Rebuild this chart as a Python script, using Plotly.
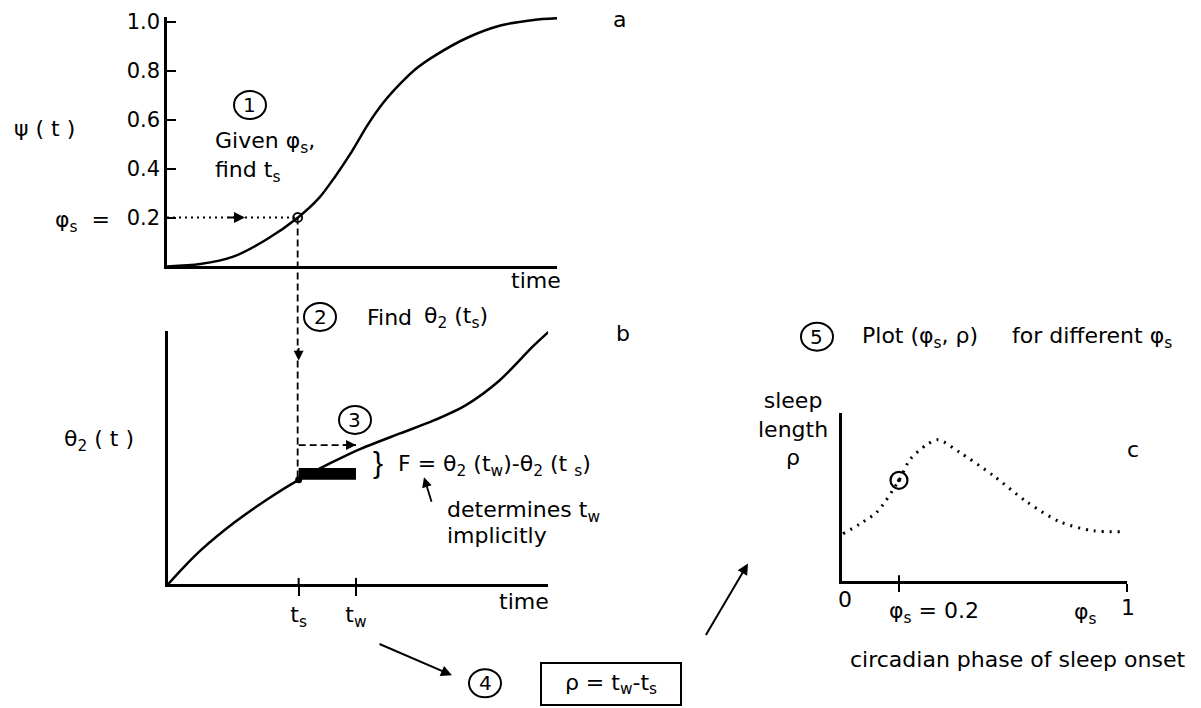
import plotly.graph_objects as go

W, H = 1201, 708
FONT = "DejaVu Sans"

# ---- panel a: psi(t) ----
t_a = [0, 0.085, 0.17, 0.255, 0.336, 0.39, 0.43, 0.47, 0.515, 0.555,
       0.6, 0.64, 0.685, 0.77, 0.855, 0.94, 1.0]
psi = [0, 0.01, 0.04, 0.11, 0.2, 0.28, 0.365, 0.46, 0.58, 0.67,
       0.75, 0.81, 0.86, 0.935, 0.985, 1.008, 1.015]
psi_ticks = [0.2, 0.4, 0.6, 0.8, 1.0]
psi_tick_text = ["0.2", "0.4", "0.6", "0.8", "1.0"]

# ---- panel b: theta2(t) ----
t_b = [0, 0.04, 0.085, 0.17, 0.255, 0.335, 0.42, 0.485, 0.595, 0.68,
       0.765, 0.85, 0.935, 0.979]
theta2 = [0, 0.068, 0.138, 0.248, 0.342, 0.42, 0.49, 0.539, 0.607, 0.658,
          0.722, 0.82, 0.956, 1.02]

phi_s = 0.2        # chosen circadian phase of sleep onset
t_s = 0.335        # sleep onset time
t_w = 0.482        # wake time
theta_s = 0.42     # theta2(t_s)
theta_step = 0.56  # level of the step-3 arrow
F_bar = 0.048      # drawn thickness of the F bar

# ---- panel c: sleep length vs onset phase ----
phase = [0.0035, 0.063, 0.123, 0.2, 0.239, 0.298, 0.337, 0.414, 0.53,
         0.649, 0.765, 0.881, 0.975]
rho = [0.282, 0.341, 0.412, 0.6, 0.724, 0.812, 0.841, 0.765, 0.629,
       0.471, 0.353, 0.3, 0.294]
rho_s = 0.6


# pixel layout -> paper fractions
def fx(x):
    return x / W


def fy(y):
    return 1 - y / H


XA_DOM = [fx(167), fx(557)]
YA_RNG = [0, 1.02]
YA_DOM = [fy(262), fy(262 - 247 * YA_RNG[1])]
XB_DOM = [fx(168), fx(548)]
XB_RNG = [0, 380 / 390]
YB_RNG = [0, 1.02]
YB_DOM = [fy(583), fy(583 - 251 * YB_RNG[1])]
XC_DOM = [fx(842), fx(1127)]
YC_DOM = [fy(580), fy(410)]


def to_paper(v, dom, rng):
    return dom[0] + (v - rng[0]) / (rng[1] - rng[0]) * (dom[1] - dom[0])


LW = 2.5
fig = go.Figure()

fig.add_trace(go.Scatter(x=t_a, y=psi, mode="lines",
                         line=dict(color="black", width=LW, shape="spline", smoothing=0.8),
                         xaxis="x", yaxis="y", hoverinfo="skip"))
fig.add_trace(go.Scatter(x=t_b, y=theta2, mode="lines",
                         line=dict(color="black", width=LW, shape="spline", smoothing=0.8),
                         xaxis="x2", yaxis="y2", hoverinfo="skip"))
fig.add_trace(go.Scatter(x=phase, y=rho, mode="lines",
                         line=dict(color="black", width=3, shape="spline", smoothing=0.8, dash="2px,6px"),
                         xaxis="x3", yaxis="y3", hoverinfo="skip"))

# markers on the curves
fig.add_trace(go.Scatter(x=[t_s], y=[phi_s], mode="markers",
                         marker=dict(symbol="circle-open", size=9, color="black",
                                     line=dict(width=1.8, color="black")),
                         xaxis="x", yaxis="y", hoverinfo="skip"))
fig.add_trace(go.Scatter(x=[t_s], y=[theta_s], mode="markers",
                         marker=dict(symbol="circle", size=7, color="black"),
                         xaxis="x2", yaxis="y2", hoverinfo="skip"))
fig.add_trace(go.Scatter(x=[phi_s], y=[rho_s], mode="markers",
                         marker=dict(symbol="circle-open", size=17, color="black",
                                     line=dict(width=2.2, color="black")),
                         xaxis="x3", yaxis="y3", hoverinfo="skip"))
fig.add_trace(go.Scatter(x=[phi_s], y=[rho_s], mode="markers",
                         marker=dict(symbol="circle", size=4, color="black"),
                         xaxis="x3", yaxis="y3", hoverinfo="skip"))

shapes = []
# step 1: dotted line from the psi axis to the curve
shapes.append(dict(type="line", xref="x", yref="y", x0=0, x1=t_s, y0=phi_s, y1=phi_s,
                   line=dict(color="black", width=2, dash="2px,4px")))
# step 2: dashed drop from panel a to panel b
shapes.append(dict(type="line", xref="x", yref="paper", x0=t_s, x1=t_s,
                   y0=to_paper(phi_s, YA_DOM, YA_RNG), y1=to_paper(theta_s, YB_DOM, YB_RNG),
                   line=dict(color="black", width=1.8, dash="7px,4px")))
# step 3: dashed horizontal arrow to t_w
shapes.append(dict(type="line", xref="x2", yref="y2", x0=t_s, x1=t_w, y0=theta_step, y1=theta_step,
                   line=dict(color="black", width=1.8, dash="7px,4px")))
# the F bar
shapes.append(dict(type="rect", xref="x2", yref="y2", x0=t_s, x1=t_w, y0=theta_s, y1=theta_s + F_bar,
                   line=dict(width=0), fillcolor="black"))

# tick marks that cross the axis (upper half)
for tv in (t_s, t_w):
    shapes.append(dict(type="line", xref="x2", yref="y2 domain", x0=tv, x1=tv, y0=0, y1=0.025,
                       line=dict(color="black", width=2)))
shapes.append(dict(type="line", xref="x3", yref="y3 domain", x0=phi_s, x1=phi_s, y0=0, y1=0.035,
                   line=dict(color="black", width=2)))


# circled step numbers
def circled(cx, cy, n):
    shapes.append(dict(type="circle", xref="paper", yref="paper", xsizemode="pixel", ysizemode="pixel",
                       xanchor=fx(cx), yanchor=fy(cy), x0=-16, x1=16, y0=-14, y1=14,
                       line=dict(color="black", width=2)))
    return dict(x=fx(cx), y=fy(cy), xref="paper", yref="paper", text=str(n), showarrow=False,
                font=dict(size=20), xanchor="center", yanchor="middle")


annotations = []
for cx, cy, n in [(250, 99, 1), (320, 313, 2), (355, 417, 3), (485, 683, 4), (817, 333, 5)]:
    annotations.append(circled(cx, cy, n))


def label(x, y, text, size=22, xanchor="left", yanchor="middle", **kw):
    d = dict(x=fx(x), y=fy(y), xref="paper", yref="paper", text=text, showarrow=False,
             font=dict(size=size), xanchor=xanchor, yanchor=yanchor)
    d.update(kw)
    return d


annotations += [
    label(12, 123, "ψ ( t )"),
    label(112, 217, "φ<sub>s</sub>  =", xanchor="right"),
    label(213, 137, "Given φ<sub>s</sub>,"),
    label(213, 166, "find t<sub>s</sub>"),
    label(563, 276, "time", xanchor="right"),
    label(619, 13, "a", xanchor="center"),
    label(365, 314, "Find"),
    label(422, 314, "θ<sub>2</sub> (t<sub>s</sub>)"),
    label(623, 330, "b", xanchor="center"),
    label(62, 438, "θ<sub>2</sub> ( t )"),
    label(378, 460, "}", xanchor="center", font=dict(size=30, family="Liberation Sans")),
    label(396, 463, "F = θ<sub>2</sub> (t<sub>w</sub>)-θ<sub>2</sub> (t <sub>s</sub>)"),
    label(445, 510, "determines t<sub>w</sub>"),
    label(445, 534, "implicitly"),
    label(551, 600, "time", xanchor="right"),
    label(611, 684, "ρ = t<sub>w</sub>-t<sub>s</sub>", xanchor="center",
          bordercolor="black", borderwidth=2, width=136, height=38),
    label(860, 334, "Plot (φ<sub>s</sub>, ρ)"),
    label(1010, 334, "for different φ<sub>s</sub>"),
    label(793, 426, "sleep<br>length<br>ρ", xanchor="center"),
    label(1133, 447, "c", xanchor="center"),
    label(845, 598, "0", xanchor="center"),
    label(887, 612, "φ<sub>s</sub> = 0.2"),
    label(1085, 613, "φ<sub>s</sub>", xanchor="center"),
    label(1128, 606, "1", xanchor="center"),
    label(1017, 659, "circadian phase of sleep onset", xanchor="center"),
]

# arrowheads and connecting arrows
arrow = dict(showarrow=True, arrowhead=2, arrowsize=1.1, arrowwidth=2, arrowcolor="black", text="",
             standoff=0)
annotations.append(dict(arrow, x=0.2, y=phi_s, xref="x", yref="y", ax=-18, ay=0))
annotations.append(dict(arrow, x=t_s, y=0.9, xref="x2", yref="y2", ax=0, ay=-14, arrowwidth=1.8))
annotations.append(dict(arrow, x=t_w, y=theta_step, xref="x2", yref="y2", ax=-14, ay=0, arrowwidth=1.8))
annotations.append(dict(arrow, x=fx(424), y=fy(475), xref="paper", yref="paper", ax=8, ay=26, arrowwidth=1.8))
annotations.append(dict(arrow, x=fx(452), y=fy(675), xref="paper", yref="paper", ax=-74, ay=-32))
annotations.append(dict(arrow, x=fx(748), y=fy(562), xref="paper", yref="paper", ax=-43, ay=73))

axis_common = dict(showgrid=False, zeroline=False, showline=True, linecolor="black", linewidth=LW,
                   fixedrange=True)

fig.update_layout(
    width=W, height=H, margin=dict(l=0, r=0, t=0, b=0),
    paper_bgcolor="white", plot_bgcolor="rgba(0,0,0,0)", showlegend=False,
    font=dict(family=FONT, size=22, color="black"),
    xaxis=dict(axis_common, domain=XA_DOM, range=[0, 1], anchor="y", showticklabels=False, ticks=""),
    yaxis=dict(axis_common, domain=YA_DOM, range=YA_RNG, anchor="x", ticks="inside", ticklen=9,
               tickwidth=2, tickcolor="black", tickvals=psi_ticks, ticktext=psi_tick_text,
               tickfont=dict(size=21)),
    xaxis2=dict(axis_common, domain=XB_DOM, range=XB_RNG, anchor="y2", ticks="outside", ticklen=9,
                tickwidth=2, tickcolor="black", tickvals=[t_s, t_w],
                ticktext=["t<sub>s</sub>", "t<sub>w</sub>"], tickfont=dict(size=22)),
    yaxis2=dict(axis_common, domain=YB_DOM, range=YB_RNG, anchor="x2", ticks="", showticklabels=False),
    xaxis3=dict(axis_common, domain=XC_DOM, range=[0, 1], anchor="y3", ticks="outside", ticklen=8,
                tickwidth=2, tickcolor="black", tickvals=[phi_s, 1], showticklabels=False),
    yaxis3=dict(axis_common, domain=YC_DOM, range=[0, 1], anchor="x3", ticks="", showticklabels=False),
    shapes=shapes,
    annotations=annotations,
)

fig.write_html("out.html", config=dict(displayModeBar=False))
